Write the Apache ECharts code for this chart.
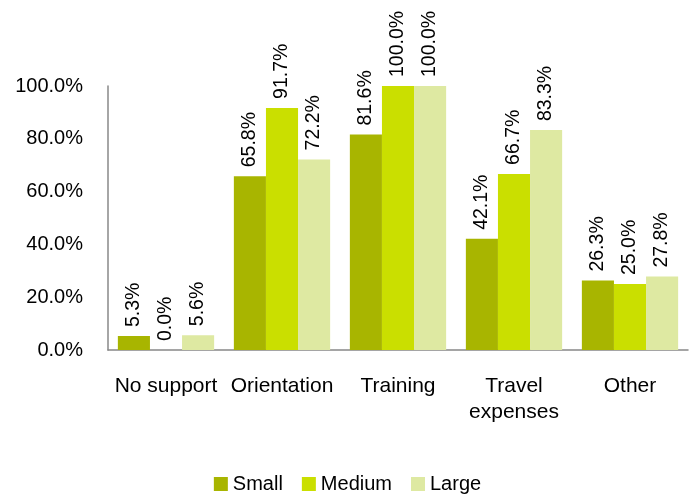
<!DOCTYPE html>
<html>
<head>
<meta charset="utf-8">
<script src="https://cdn.jsdelivr.net/npm/echarts@6/dist/echarts.min.js"></script>
<style>
  html, body { margin: 0; padding: 0; background: #fff; }
  #chart { width: 695px; height: 497px; }
</style>
</head>
<body>
<div id="chart"></div>
<script>
// Support types offered, by organisation size (% of respondents)
const categories = ['No support', 'Orientation', 'Training', 'Travel\nexpenses', 'Other'];
const smallValues = [5.3, 65.8, 81.6, 42.1, 26.3];
const mediumValues = [0.0, 91.7, 100.0, 66.7, 25.0];
const largeValues = [5.6, 72.2, 100.0, 83.3, 27.8];
const yTicks = [0, 20, 40, 60, 80, 100];

const font = 'Liberation Sans, Arial, sans-serif';

function barSeries(name, data, color) {
  return {
    name: name,
    type: 'bar',
    data: data,
    barGap: '0%',
    barCategoryGap: '17%',
    itemStyle: { color: color },
    label: {
      show: true,
      position: 'top',
      rotate: 90,
      align: 'left',
      verticalAlign: 'middle',
      distance: 9,
      color: '#000',
      fontFamily: font,
      fontSize: 19.5,
      formatter: p => p.value.toFixed(1) + '%'
    }
  };
}

const chart = echarts.init(document.getElementById('chart'));
chart.setOption({
  animation: false,
  grid: { left: 108, right: 7, top: 86, bottom: 147 },
  legend: {
    top: 469,
    left: 'center',
    itemWidth: 14,
    itemHeight: 14,
    itemGap: 19,
    icon: 'rect',
    textStyle: { fontFamily: font, fontSize: 20, color: '#000' },
    data: ['Small', 'Medium', 'Large']
  },
  xAxis: {
    type: 'category',
    data: categories,
    axisLine: { lineStyle: { color: '#888888', width: 1.5 } },
    axisTick: { show: false },
    axisLabel: { color: '#000', fontFamily: font, fontSize: 21, margin: 23, lineHeight: 26, interval: 0 }
  },
  yAxis: {
    type: 'value',
    min: yTicks[0],
    max: yTicks[yTicks.length - 1],
    interval: 20,
    splitLine: { show: false },
    axisLine: { show: true, lineStyle: { color: '#888888', width: 1.5 } },
    axisTick: { show: false },
    axisLabel: {
      color: '#000', fontFamily: font, fontSize: 20, margin: 25,
      formatter: v => v.toFixed(1) + '%'
    }
  },
  series: [
    barSeries('Small', smallValues, '#a8b500'),
    barSeries('Medium', mediumValues, '#cadf00'),
    barSeries('Large', largeValues, '#dee9a2')
  ]
});
</script>
</body>
</html>
